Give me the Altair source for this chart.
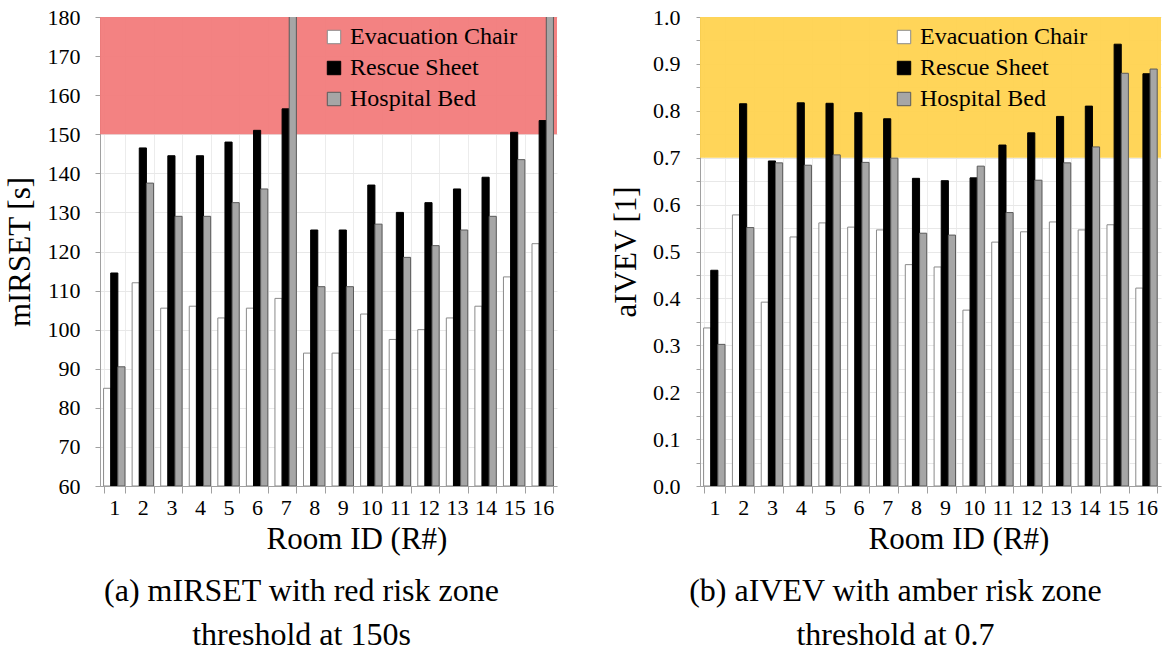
import altair as alt
import pandas as pd

rooms = [str(i) for i in range(1, 17)]
devices = ["Evacuation Chair", "Rescue Sheet", "Hospital Bed"]

# mIRSET [s]
mirset_chair = [85, 112, 105.5, 106, 103, 105.5, 108, 94, 94, 104, 97.5, 100, 103, 106, 113.5, 122]
mirset_sheet = [114.5, 146.5, 144.5, 144.5, 148, 151, 156.5, 125.5, 125.5, 137, 130, 132.5, 136, 139, 150.5, 153.5]
mirset_bed = [90.5, 137.5, 129, 129, 132.5, 136, 200, 111, 111, 127, 118.5, 121.5, 125.5, 129, 143.5, 200]

# aIVEV [1]
aivev_chair = [0.337, 0.578, 0.392, 0.531, 0.561, 0.552, 0.546, 0.472, 0.467, 0.375, 0.520, 0.542, 0.563, 0.546, 0.557, 0.422]
aivev_sheet = [0.460, 0.815, 0.693, 0.817, 0.816, 0.796, 0.783, 0.656, 0.651, 0.657, 0.727, 0.753, 0.788, 0.810, 0.942, 0.879]
aivev_bed = [0.302, 0.551, 0.689, 0.684, 0.706, 0.690, 0.699, 0.539, 0.535, 0.682, 0.583, 0.652, 0.689, 0.723, 0.880, 0.889]

FONT = "Liberation Serif"
H = 469


def long_df(a, b, c):
    rows = []
    for i, r in enumerate(rooms):
        for d, v in zip(devices, (a[i], b[i], c[i])):
            rows.append({"Room": r, "Device": d, "Value": v})
    return pd.DataFrame(rows)


def panel(df, W, ymin, ymax, zone_lo, zone_color, ytitle, yvalues, label_expr,
          legend_x, caption, title_padding, tick_size, label_padding, cap_dx):
    yscale = alt.Scale(domain=[ymin, ymax], zero=False, nice=False)
    yaxis = alt.Axis(title=ytitle, values=yvalues, labelExpr=label_expr,
                     grid=True, gridColor="#e8e8e8", tickSize=tick_size,
                     tickColor="#a0a0a0", domainColor="#a0a0a0",
                     labelFontSize=22, labelFont=FONT, labelColor="black",
                     labelPadding=label_padding, titleFontSize=31, titleFont=FONT,
                     titleFontWeight="normal", titleColor="black",
                     titlePadding=title_padding)
    zone = alt.Chart(pd.DataFrame({"a": [1]})).mark_rect(
        color=zone_color, opacity=0.93
    ).encode(
        x=alt.value(0), x2=alt.value(W),
        y=alt.Y(datum=zone_lo, scale=yscale, axis=yaxis, title=ytitle),
        y2=alt.Y2(datum=ymax),
    )
    bars = alt.Chart(df).mark_bar(clip=True, strokeWidth=1).encode(
        x=alt.X("Room:N", sort=rooms,
                scale=alt.Scale(paddingInner=0.25, paddingOuter=0.125),
                axis=alt.Axis(title="Room ID (R#)", labelAngle=0, tickBand="extent",
                              grid=True, gridColor="#ececec", tickSize=7,
                              tickColor="#a0a0a0", domainColor="#a0a0a0",
                              labelFontSize=22, labelFont=FONT, labelColor="black",
                              labelPadding=4, titleFontSize=31, titleFont=FONT,
                              titleFontWeight="normal", titleColor="black",
                              titlePadding=6, titleX=W / 2 + 28)),
        xOffset=alt.XOffset("Device:N", sort=devices, scale=alt.Scale(paddingInner=0)),
        y=alt.Y("Value:Q", scale=yscale, axis=yaxis, title=ytitle),
        y2=alt.Y2(datum=ymin),
        color=alt.Color("Device:N", sort=devices,
                        scale=alt.Scale(domain=devices, range=["white", "black", "#a6a6a6"]),
                        legend=alt.Legend(title=None, orient="none", legendX=legend_x,
                                          legendY=8, labelFont=FONT, labelFontSize=24,
                                          labelColor="black", labelLimit=400,
                                          symbolType="square",
                                          symbolSize=180, symbolStrokeColor="#555555",
                                          symbolStrokeWidth=1, rowPadding=7,
                                          labelOffset=4, symbolOpacity=1)),
        stroke=alt.Stroke("Device:N", sort=devices,
                          scale=alt.Scale(domain=devices, range=["#8a8a8a", "black", "#5a5a5a"]),
                          legend=None),
    )
    return alt.layer(zone, bars).properties(
        width=W, height=H,
        title=alt.TitleParams(text=caption, orient="bottom", anchor="middle",
                              font=FONT, fontSize=32, fontWeight="normal",
                              color="black", lineHeight=44, offset=22, dx=cap_dx),
    )


left = panel(long_df(mirset_chair, mirset_sheet, mirset_bed), 457, 60, 180, 150, "#F27878",
             "mIRSET [s]", list(range(60, 181, 10)), "datum.label",
             222, ["(a) mIRSET with red risk zone", "threshold at 150s"], 11, 5, 15, -27)

right = panel(long_df(aivev_chair, aivev_sheet, aivev_bed), 461, 0, 1, 0.7, "#FFD24C",
              "aIVEV  [1]", [round(i * 0.05, 2) for i in range(21)],
              "round(datum.value*100) % 10 == 0 ? format(datum.value, '.1f') : ''",
              192, ["(b) aIVEV with amber risk zone", "threshold at 0.7"], 10, 4, 16, -35)

chart = alt.hconcat(left, right, spacing=53).resolve_scale(
    y="independent", color="independent", stroke="independent"
).resolve_legend(color="independent").properties(
    padding={"left": 4, "top": 6, "right": 2, "bottom": 2}
).configure(font=FONT).configure_view(stroke=None).configure_legend(
    labelFont=FONT, labelLimit=400
)

chart.save("out.html", embed_options={"renderer": "svg", "actions": False})
